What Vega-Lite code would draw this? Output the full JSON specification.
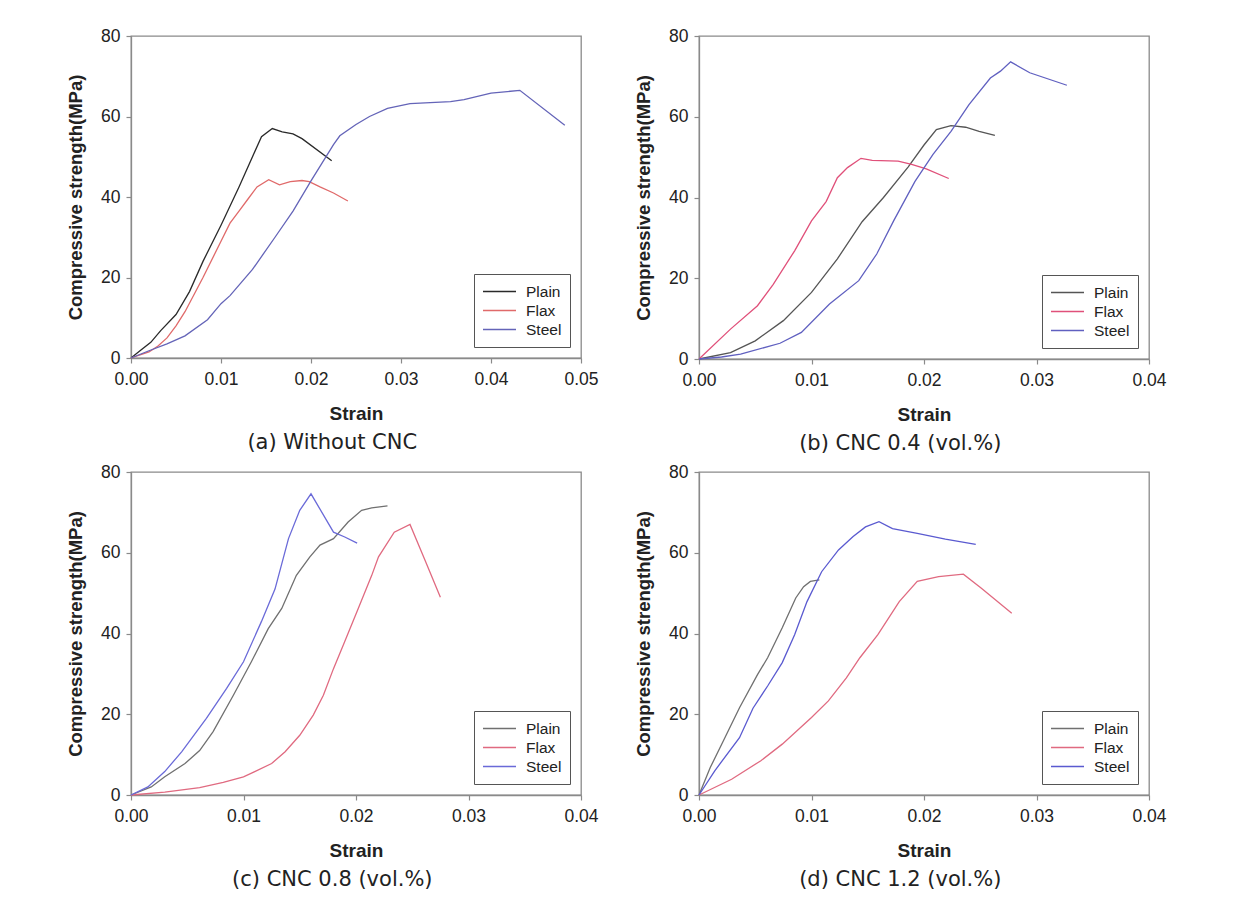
{
  "$schema": "https://vega.github.io/schema/vega-lite/v6.json",
  "padding": {"left": 65, "top": 26, "right": 5, "bottom": 5},
  "background": "white",
  "config": {
    "view": {"stroke": "#8a8a8a", "strokeWidth": 1.3},
    "axis": {
      "grid": false,
      "domainColor": "#8a8a8a",
      "domainWidth": 1.3,
      "tickColor": "#8a8a8a",
      "tickSize": 5,
      "tickWidth": 1.2,
      "labelFont": "Liberation Sans",
      "labelFontSize": 17.5,
      "labelColor": "#222222",
      "titleFont": "Liberation Sans",
      "titleFontSize": 19,
      "titleFontWeight": "bold",
      "titleColor": "#222222"
    },
    "axisX": {"labelPadding": 7, "titlePadding": 17, "labelFlush": false, "format": ".2f"},
    "axisY": {"labelPadding": 6, "titlePadding": 15, "format": "d", "titleFontSize": 18.5},
    "legend": {
      "orient": "bottom-right",
      "offset": 11,
      "strokeColor": "#555555",
      "fillColor": "white",
      "padding": 8,
      "symbolType": "stroke",
      "symbolSize": 1089,
      "symbolStrokeWidth": 1.3,
      "labelFont": "Liberation Sans",
      "labelFontSize": 15.5,
      "labelColor": "#222222",
      "labelOffset": 9,
      "clipHeight": 19,
      "rowPadding": 0
    },
    "title": {"orient": "bottom", "frame": "bounds", "font": "DejaVu Sans", "fontSize": 21, "fontWeight": "normal", "color": "#222222", "offset": 8}
  },
  "datasets": {
    "a": [
      {"series": "Plain", "strain": 0, "stress": 0},
      {"series": "Plain", "strain": 0.001, "stress": 1.8},
      {"series": "Plain", "strain": 0.0022, "stress": 3.9},
      {"series": "Plain", "strain": 0.0033, "stress": 6.8},
      {"series": "Plain", "strain": 0.005, "stress": 10.8},
      {"series": "Plain", "strain": 0.0065, "stress": 16.5},
      {"series": "Plain", "strain": 0.008, "stress": 24},
      {"series": "Plain", "strain": 0.01, "stress": 33},
      {"series": "Plain", "strain": 0.012, "stress": 42.5},
      {"series": "Plain", "strain": 0.0145, "stress": 55},
      {"series": "Plain", "strain": 0.0157, "stress": 57},
      {"series": "Plain", "strain": 0.0168, "stress": 56.2},
      {"series": "Plain", "strain": 0.018, "stress": 55.7},
      {"series": "Plain", "strain": 0.019, "stress": 54.5},
      {"series": "Plain", "strain": 0.0223, "stress": 49},
      {"series": "Flax", "strain": 0, "stress": 0},
      {"series": "Flax", "strain": 0.002, "stress": 1.5},
      {"series": "Flax", "strain": 0.003, "stress": 3},
      {"series": "Flax", "strain": 0.004, "stress": 5},
      {"series": "Flax", "strain": 0.005, "stress": 8},
      {"series": "Flax", "strain": 0.006, "stress": 11.5},
      {"series": "Flax", "strain": 0.008, "stress": 20},
      {"series": "Flax", "strain": 0.01, "stress": 29},
      {"series": "Flax", "strain": 0.011, "stress": 33.5},
      {"series": "Flax", "strain": 0.012, "stress": 36.5},
      {"series": "Flax", "strain": 0.013, "stress": 39.5},
      {"series": "Flax", "strain": 0.014, "stress": 42.5},
      {"series": "Flax", "strain": 0.0153, "stress": 44.3},
      {"series": "Flax", "strain": 0.0165, "stress": 43},
      {"series": "Flax", "strain": 0.0177, "stress": 43.8},
      {"series": "Flax", "strain": 0.019, "stress": 44.1},
      {"series": "Flax", "strain": 0.0198, "stress": 43.8},
      {"series": "Flax", "strain": 0.021, "stress": 42.5},
      {"series": "Flax", "strain": 0.0225, "stress": 41},
      {"series": "Flax", "strain": 0.0241, "stress": 39},
      {"series": "Steel", "strain": 0, "stress": 0},
      {"series": "Steel", "strain": 0.002, "stress": 1.8},
      {"series": "Steel", "strain": 0.004, "stress": 3.5},
      {"series": "Steel", "strain": 0.006, "stress": 5.5},
      {"series": "Steel", "strain": 0.0085, "stress": 9.5},
      {"series": "Steel", "strain": 0.01, "stress": 13.5},
      {"series": "Steel", "strain": 0.011, "stress": 15.5},
      {"series": "Steel", "strain": 0.0135, "stress": 22},
      {"series": "Steel", "strain": 0.016, "stress": 30},
      {"series": "Steel", "strain": 0.018, "stress": 36.5},
      {"series": "Steel", "strain": 0.02, "stress": 44},
      {"series": "Steel", "strain": 0.0225, "stress": 53},
      {"series": "Steel", "strain": 0.0232, "stress": 55.2},
      {"series": "Steel", "strain": 0.025, "stress": 58},
      {"series": "Steel", "strain": 0.0265, "stress": 60},
      {"series": "Steel", "strain": 0.0285, "stress": 62},
      {"series": "Steel", "strain": 0.031, "stress": 63.2},
      {"series": "Steel", "strain": 0.0355, "stress": 63.7},
      {"series": "Steel", "strain": 0.037, "stress": 64.2},
      {"series": "Steel", "strain": 0.04, "stress": 65.8},
      {"series": "Steel", "strain": 0.0432, "stress": 66.5},
      {"series": "Steel", "strain": 0.0482, "stress": 57.8}
    ],
    "b": [
      {"series": "Plain", "strain": 0, "stress": 0},
      {"series": "Plain", "strain": 0.0028, "stress": 1.6},
      {"series": "Plain", "strain": 0.005, "stress": 4.5},
      {"series": "Plain", "strain": 0.0075, "stress": 9.5},
      {"series": "Plain", "strain": 0.01, "stress": 16.5},
      {"series": "Plain", "strain": 0.0123, "stress": 24.8},
      {"series": "Plain", "strain": 0.0145, "stress": 34},
      {"series": "Plain", "strain": 0.0164, "stress": 40},
      {"series": "Plain", "strain": 0.0186, "stress": 47.6},
      {"series": "Plain", "strain": 0.02, "stress": 53},
      {"series": "Plain", "strain": 0.0211, "stress": 56.8},
      {"series": "Plain", "strain": 0.0224, "stress": 57.8},
      {"series": "Plain", "strain": 0.0237, "stress": 57.4},
      {"series": "Plain", "strain": 0.0249, "stress": 56.4},
      {"series": "Plain", "strain": 0.0263, "stress": 55.4},
      {"series": "Flax", "strain": 0, "stress": 0},
      {"series": "Flax", "strain": 0.0028, "stress": 7.4},
      {"series": "Flax", "strain": 0.0052, "stress": 13.2},
      {"series": "Flax", "strain": 0.0066, "stress": 18.5},
      {"series": "Flax", "strain": 0.0085, "stress": 26.8},
      {"series": "Flax", "strain": 0.01, "stress": 34.2},
      {"series": "Flax", "strain": 0.0113, "stress": 39},
      {"series": "Flax", "strain": 0.0123, "stress": 44.9},
      {"series": "Flax", "strain": 0.0132, "stress": 47.4},
      {"series": "Flax", "strain": 0.0144, "stress": 49.7},
      {"series": "Flax", "strain": 0.0154, "stress": 49.2},
      {"series": "Flax", "strain": 0.0177, "stress": 49},
      {"series": "Flax", "strain": 0.0189, "stress": 48.2},
      {"series": "Flax", "strain": 0.0202, "stress": 47.1},
      {"series": "Flax", "strain": 0.0222, "stress": 44.7},
      {"series": "Steel", "strain": 0, "stress": 0},
      {"series": "Steel", "strain": 0.002, "stress": 0.5},
      {"series": "Steel", "strain": 0.0037, "stress": 1.2},
      {"series": "Steel", "strain": 0.0072, "stress": 3.9},
      {"series": "Steel", "strain": 0.0091, "stress": 6.6},
      {"series": "Steel", "strain": 0.0116, "stress": 13.6},
      {"series": "Steel", "strain": 0.0142, "stress": 19.4},
      {"series": "Steel", "strain": 0.0158, "stress": 26},
      {"series": "Steel", "strain": 0.0173, "stress": 34.2},
      {"series": "Steel", "strain": 0.0192, "stress": 44},
      {"series": "Steel", "strain": 0.0208, "stress": 50.7},
      {"series": "Steel", "strain": 0.0224, "stress": 56.4},
      {"series": "Steel", "strain": 0.024, "stress": 63},
      {"series": "Steel", "strain": 0.0259, "stress": 69.6},
      {"series": "Steel", "strain": 0.0268, "stress": 71.3},
      {"series": "Steel", "strain": 0.0277, "stress": 73.6},
      {"series": "Steel", "strain": 0.0294, "stress": 70.9},
      {"series": "Steel", "strain": 0.0327, "stress": 67.8}
    ],
    "c": [
      {"series": "Plain", "strain": 0, "stress": 0},
      {"series": "Plain", "strain": 0.0018, "stress": 2},
      {"series": "Plain", "strain": 0.003, "stress": 4.5},
      {"series": "Plain", "strain": 0.0048, "stress": 7.8},
      {"series": "Plain", "strain": 0.0061, "stress": 11},
      {"series": "Plain", "strain": 0.0073, "stress": 15.7},
      {"series": "Plain", "strain": 0.0091, "stress": 24.7},
      {"series": "Plain", "strain": 0.0107, "stress": 33},
      {"series": "Plain", "strain": 0.0122, "stress": 41.2},
      {"series": "Plain", "strain": 0.0134, "stress": 46.2},
      {"series": "Plain", "strain": 0.0147, "stress": 54.4},
      {"series": "Plain", "strain": 0.0159, "stress": 59},
      {"series": "Plain", "strain": 0.0168, "stress": 61.9},
      {"series": "Plain", "strain": 0.018, "stress": 63.5},
      {"series": "Plain", "strain": 0.0193, "stress": 67.6},
      {"series": "Plain", "strain": 0.0205, "stress": 70.5},
      {"series": "Plain", "strain": 0.0214, "stress": 71.1},
      {"series": "Plain", "strain": 0.0228, "stress": 71.6},
      {"series": "Flax", "strain": 0, "stress": 0},
      {"series": "Flax", "strain": 0.003, "stress": 0.7},
      {"series": "Flax", "strain": 0.0061, "stress": 1.8},
      {"series": "Flax", "strain": 0.0082, "stress": 3.1},
      {"series": "Flax", "strain": 0.01, "stress": 4.5},
      {"series": "Flax", "strain": 0.011, "stress": 5.8},
      {"series": "Flax", "strain": 0.0125, "stress": 7.8},
      {"series": "Flax", "strain": 0.0137, "stress": 10.7},
      {"series": "Flax", "strain": 0.015, "stress": 14.8},
      {"series": "Flax", "strain": 0.0162, "stress": 19.8},
      {"series": "Flax", "strain": 0.0171, "stress": 24.7},
      {"series": "Flax", "strain": 0.018, "stress": 31.3},
      {"series": "Flax", "strain": 0.019, "stress": 38},
      {"series": "Flax", "strain": 0.0202, "stress": 46.2},
      {"series": "Flax", "strain": 0.0214, "stress": 54.4},
      {"series": "Flax", "strain": 0.022, "stress": 59},
      {"series": "Flax", "strain": 0.0234, "stress": 65.1},
      {"series": "Flax", "strain": 0.0248, "stress": 67},
      {"series": "Flax", "strain": 0.0262, "stress": 57.7},
      {"series": "Flax", "strain": 0.0275, "stress": 49},
      {"series": "Steel", "strain": 0, "stress": 0},
      {"series": "Steel", "strain": 0.0015, "stress": 2},
      {"series": "Steel", "strain": 0.003, "stress": 5.8},
      {"series": "Steel", "strain": 0.0045, "stress": 10.7},
      {"series": "Steel", "strain": 0.0067, "stress": 19},
      {"series": "Steel", "strain": 0.0085, "stress": 26.4},
      {"series": "Steel", "strain": 0.01, "stress": 33},
      {"series": "Steel", "strain": 0.0116, "stress": 43},
      {"series": "Steel", "strain": 0.0128, "stress": 51},
      {"series": "Steel", "strain": 0.014, "stress": 63.5},
      {"series": "Steel", "strain": 0.015, "stress": 70.5},
      {"series": "Steel", "strain": 0.016, "stress": 74.6},
      {"series": "Steel", "strain": 0.018, "stress": 65.1},
      {"series": "Steel", "strain": 0.019, "stress": 63.9},
      {"series": "Steel", "strain": 0.0201, "stress": 62.4}
    ],
    "d": [
      {"series": "Plain", "strain": 0, "stress": 0},
      {"series": "Plain", "strain": 0.001, "stress": 6.8},
      {"series": "Plain", "strain": 0.0023, "stress": 14.2},
      {"series": "Plain", "strain": 0.0036, "stress": 21.6},
      {"series": "Plain", "strain": 0.0052, "stress": 29.8},
      {"series": "Plain", "strain": 0.0061, "stress": 34},
      {"series": "Plain", "strain": 0.0074, "stress": 41.4},
      {"series": "Plain", "strain": 0.0086, "stress": 48.8},
      {"series": "Plain", "strain": 0.0093, "stress": 51.6},
      {"series": "Plain", "strain": 0.0099, "stress": 52.9},
      {"series": "Plain", "strain": 0.0107, "stress": 53.3},
      {"series": "Flax", "strain": 0, "stress": 0},
      {"series": "Flax", "strain": 0.0029, "stress": 3.9},
      {"series": "Flax", "strain": 0.0055, "stress": 8.5},
      {"series": "Flax", "strain": 0.0074, "stress": 12.6},
      {"series": "Flax", "strain": 0.01, "stress": 19.2},
      {"series": "Flax", "strain": 0.0115, "stress": 23.3},
      {"series": "Flax", "strain": 0.0131, "stress": 29},
      {"series": "Flax", "strain": 0.0143, "stress": 34},
      {"series": "Flax", "strain": 0.0159, "stress": 39.7},
      {"series": "Flax", "strain": 0.0178, "stress": 47.9},
      {"series": "Flax", "strain": 0.0194, "stress": 52.9},
      {"series": "Flax", "strain": 0.0213, "stress": 54.1},
      {"series": "Flax", "strain": 0.0235, "stress": 54.7},
      {"series": "Flax", "strain": 0.0251, "stress": 51.2},
      {"series": "Flax", "strain": 0.0278, "stress": 45},
      {"series": "Steel", "strain": 0, "stress": 0},
      {"series": "Steel", "strain": 0.0014, "stress": 6},
      {"series": "Steel", "strain": 0.0036, "stress": 14.2},
      {"series": "Steel", "strain": 0.0048, "stress": 21.5},
      {"series": "Steel", "strain": 0.0061, "stress": 27},
      {"series": "Steel", "strain": 0.0074, "stress": 32.8},
      {"series": "Steel", "strain": 0.0085, "stress": 39.7},
      {"series": "Steel", "strain": 0.0096, "stress": 47.9},
      {"series": "Steel", "strain": 0.0109, "stress": 55.3},
      {"series": "Steel", "strain": 0.0124, "stress": 60.7},
      {"series": "Steel", "strain": 0.0137, "stress": 64},
      {"series": "Steel", "strain": 0.0148, "stress": 66.4},
      {"series": "Steel", "strain": 0.016, "stress": 67.7},
      {"series": "Steel", "strain": 0.0172, "stress": 66},
      {"series": "Steel", "strain": 0.0194, "stress": 64.8},
      {"series": "Steel", "strain": 0.0219, "stress": 63.4},
      {"series": "Steel", "strain": 0.0246, "stress": 62.1}
    ]
  },
  "columns": 2,
  "spacing": {"row": 7, "column": 34},
  "resolve": {"scale": {"color": "independent"}, "legend": {"color": "independent"}},
  "concat": [
    {
      "width": 450, "height": 322,
      "data": {"name": "a"},
      "title": {"text": "(a) Without CNC"},
      "mark": {"type": "line", "strokeWidth": 1.3},
      "encoding": {
        "x": {"field": "strain", "type": "quantitative", "scale": {"domain": [0, 0.05], "nice": false}, "axis": {"title": "Strain", "values": [0, 0.01, 0.02, 0.03, 0.04, 0.05]}},
        "y": {"field": "stress", "type": "quantitative", "scale": {"domain": [0, 80], "nice": false}, "axis": {"title": "Compressive strength(MPa)", "values": [0, 20, 40, 60, 80]}},
        "color": {"field": "series", "type": "nominal", "scale": {"domain": ["Plain", "Flax", "Steel"], "range": ["#2a2a2a", "#e06a6a", "#6464b8"]}, "legend": {"title": null}}
      }
    },
    {
      "width": 450, "height": 323,
      "data": {"name": "b"},
      "title": {"text": "(b) CNC 0.4 (vol.%)"},
      "mark": {"type": "line", "strokeWidth": 1.3},
      "encoding": {
        "x": {"field": "strain", "type": "quantitative", "scale": {"domain": [0, 0.04], "nice": false}, "axis": {"title": "Strain", "values": [0, 0.01, 0.02, 0.03, 0.04]}},
        "y": {"field": "stress", "type": "quantitative", "scale": {"domain": [0, 80], "nice": false}, "axis": {"title": "Compressive strength(MPa)", "values": [0, 20, 40, 60, 80]}},
        "color": {"field": "series", "type": "nominal", "scale": {"domain": ["Plain", "Flax", "Steel"], "range": ["#555555", "#e0507a", "#6060c0"]}, "legend": {"title": null}}
      }
    },
    {
      "width": 450, "height": 323,
      "data": {"name": "c"},
      "title": {"text": "(c) CNC 0.8 (vol.%)"},
      "mark": {"type": "line", "strokeWidth": 1.3},
      "encoding": {
        "x": {"field": "strain", "type": "quantitative", "scale": {"domain": [0, 0.04], "nice": false}, "axis": {"title": "Strain", "values": [0, 0.01, 0.02, 0.03, 0.04]}},
        "y": {"field": "stress", "type": "quantitative", "scale": {"domain": [0, 80], "nice": false}, "axis": {"title": "Compressive strength(MPa)", "values": [0, 20, 40, 60, 80]}},
        "color": {"field": "series", "type": "nominal", "scale": {"domain": ["Plain", "Flax", "Steel"], "range": ["#707070", "#e06a80", "#6a6ad8"]}, "legend": {"title": null}}
      }
    },
    {
      "width": 450, "height": 323,
      "data": {"name": "d"},
      "title": {"text": "(d) CNC 1.2 (vol.%)"},
      "mark": {"type": "line", "strokeWidth": 1.3},
      "encoding": {
        "x": {"field": "strain", "type": "quantitative", "scale": {"domain": [0, 0.04], "nice": false}, "axis": {"title": "Strain", "values": [0, 0.01, 0.02, 0.03, 0.04]}},
        "y": {"field": "stress", "type": "quantitative", "scale": {"domain": [0, 80], "nice": false}, "axis": {"title": "Compressive strength(MPa)", "values": [0, 20, 40, 60, 80]}},
        "color": {"field": "series", "type": "nominal", "scale": {"domain": ["Plain", "Flax", "Steel"], "range": ["#707070", "#e06a80", "#5a5ad0"]}, "legend": {"title": null}}
      }
    }
  ]
}
